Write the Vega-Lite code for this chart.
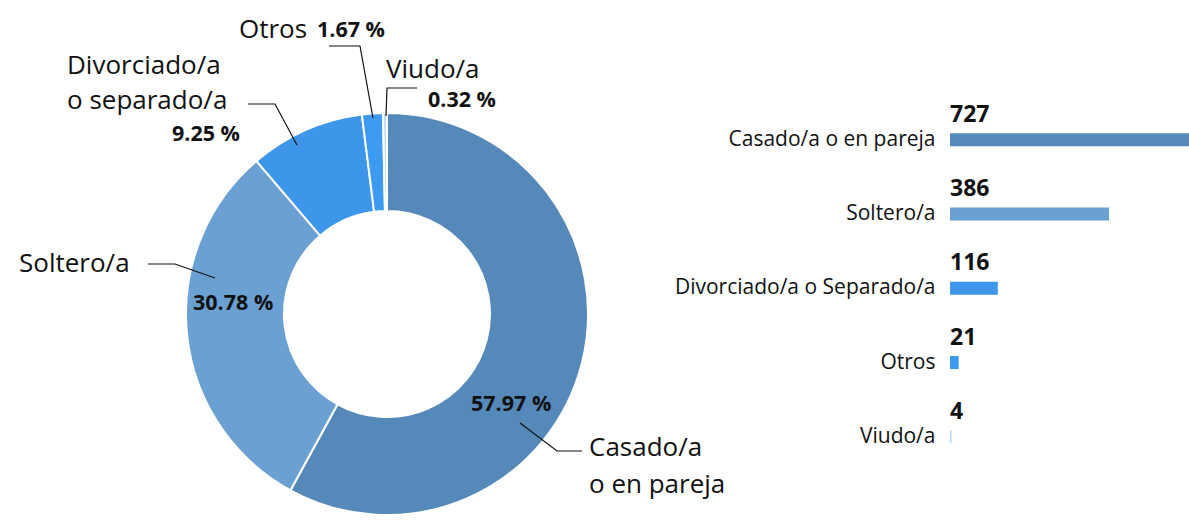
{
  "$schema": "https://vega.github.io/schema/vega-lite/v6.json",
  "padding": 0,
  "background": "white",
  "bounds": "flush",
  "spacing": 190,
  "config": {"view": {"stroke": null}, "font": "Open Sans", "text": {"font": "Open Sans"}},
  "datasets": {
    "estado": [
      {"categoria": "Casado/a o en pareja", "n": 727},
      {"categoria": "Soltero/a", "n": 386},
      {"categoria": "Divorciado/a o Separado/a", "n": 116},
      {"categoria": "Otros", "n": 21},
      {"categoria": "Viudo/a", "n": 4}
    ],
    "nombres": [
      {"t": "Otros", "px": 239, "py": 30},
      {"t": "Viudo/a", "px": 386, "py": 70},
      {"t": "Divorciado/a", "px": 67, "py": 66},
      {"t": "o separado/a", "px": 67, "py": 101},
      {"t": "Soltero/a", "px": 19, "py": 264},
      {"t": "Casado/a", "px": 589, "py": 448},
      {"t": "o en pareja", "px": 589, "py": 485}
    ],
    "porcentajes": [
      {"t": "1.67 %", "px": 317, "py": 31},
      {"t": "0.32 %", "px": 428, "py": 101},
      {"t": "9.25 %", "px": 172, "py": 135},
      {"t": "30.78 %", "px": 193, "py": 304},
      {"t": "57.97 %", "px": 471, "py": 405}
    ],
    "guias": [
      {"id": "casado", "k": 1, "px": 520, "py": 423},
      {"id": "casado", "k": 2, "px": 557, "py": 451},
      {"id": "casado", "k": 3, "px": 582, "py": 451},
      {"id": "soltero", "k": 1, "px": 148, "py": 264},
      {"id": "soltero", "k": 2, "px": 175, "py": 264},
      {"id": "soltero", "k": 3, "px": 215, "py": 278},
      {"id": "divorciado", "k": 1, "px": 248, "py": 104},
      {"id": "divorciado", "k": 2, "px": 275, "py": 104},
      {"id": "divorciado", "k": 3, "px": 297, "py": 145},
      {"id": "otros", "k": 1, "px": 329, "py": 46},
      {"id": "otros", "k": 2, "px": 360, "py": 46},
      {"id": "otros", "k": 3, "px": 373, "py": 118},
      {"id": "viudo", "k": 1, "px": 386, "py": 116},
      {"id": "viudo", "k": 2, "px": 387, "py": 88},
      {"id": "viudo", "k": 3, "px": 417, "py": 88}
    ]
  },
  "hconcat": [
    {
      "width": 760,
      "height": 520,
      "layer": [
        {
          "data": {"name": "estado"},
          "mark": {"type": "arc", "outerRadius": 201, "innerRadius": 103, "stroke": "white", "strokeWidth": 2},
          "encoding": {
            "x": {"datum": 387, "type": "quantitative", "scale": {"domain": [0, 760], "nice": false, "zero": false}, "axis": null},
            "y": {"datum": 314, "type": "quantitative", "scale": {"domain": [0, 520], "nice": false, "zero": false, "reverse": true}, "axis": null},
            "theta": {"field": "n", "type": "quantitative", "stack": true},
            "order": {"field": "n", "type": "quantitative", "sort": "descending"},
            "color": {"field": "categoria", "type": "nominal", "legend": null,
              "scale": {"domain": ["Casado/a o en pareja", "Soltero/a", "Divorciado/a o Separado/a", "Otros", "Viudo/a"],
                        "range": ["#5589b9", "#6aa1d2", "#3d96ea", "#3c9af0", "#c3dcf5"]}}
          }
        },
        {
          "data": {"name": "guias"},
          "mark": {"type": "line", "color": "#111111", "strokeWidth": 1.2},
          "encoding": {
            "x": {"field": "px", "type": "quantitative"},
            "y": {"field": "py", "type": "quantitative"},
            "detail": {"field": "id"},
            "order": {"field": "k", "type": "quantitative"}
          }
        },
        {
          "data": {"name": "nombres"},
          "mark": {"type": "text", "align": "left", "baseline": "middle", "fontSize": 26, "color": "#111111"},
          "encoding": {
            "x": {"field": "px", "type": "quantitative"},
            "y": {"field": "py", "type": "quantitative"},
            "text": {"field": "t"}
          }
        },
        {
          "data": {"name": "porcentajes"},
          "mark": {"type": "text", "align": "left", "baseline": "middle", "fontSize": 21.5, "fontWeight": "bold", "color": "#111111"},
          "encoding": {
            "x": {"field": "px", "type": "quantitative"},
            "y": {"field": "py", "type": "quantitative"},
            "text": {"field": "t"}
          }
        }
      ]
    },
    {
      "width": 239,
      "height": 520,
      "data": {"name": "estado"},
      "encoding": {
        "y": {"field": "categoria", "type": "nominal", "sort": {"field": "n", "order": "descending"},
          "scale": {"paddingInner": 0, "paddingOuter": 1.037, "align": 0.69},
          "axis": {"title": null, "ticks": false, "domain": false, "labelFontSize": 21, "labelPadding": 15, "labelColor": "#111111", "labelFont": "Open Sans", "labelLimit": 400}}
      },
      "layer": [
        {
          "mark": {"type": "bar", "height": 13},
          "encoding": {
            "x": {"field": "n", "type": "quantitative", "scale": {"domain": [0, 580], "nice": false, "clamp": true}, "axis": null},
            "color": {"field": "categoria", "type": "nominal", "legend": null}
          }
        },
        {
          "mark": {"type": "text", "align": "left", "baseline": "middle", "dy": -25, "fontSize": 23, "fontWeight": "bold", "color": "#111111"},
          "encoding": {
            "x": {"datum": 0, "type": "quantitative"},
            "text": {"field": "n", "type": "quantitative"}
          }
        }
      ]
    }
  ]
}
